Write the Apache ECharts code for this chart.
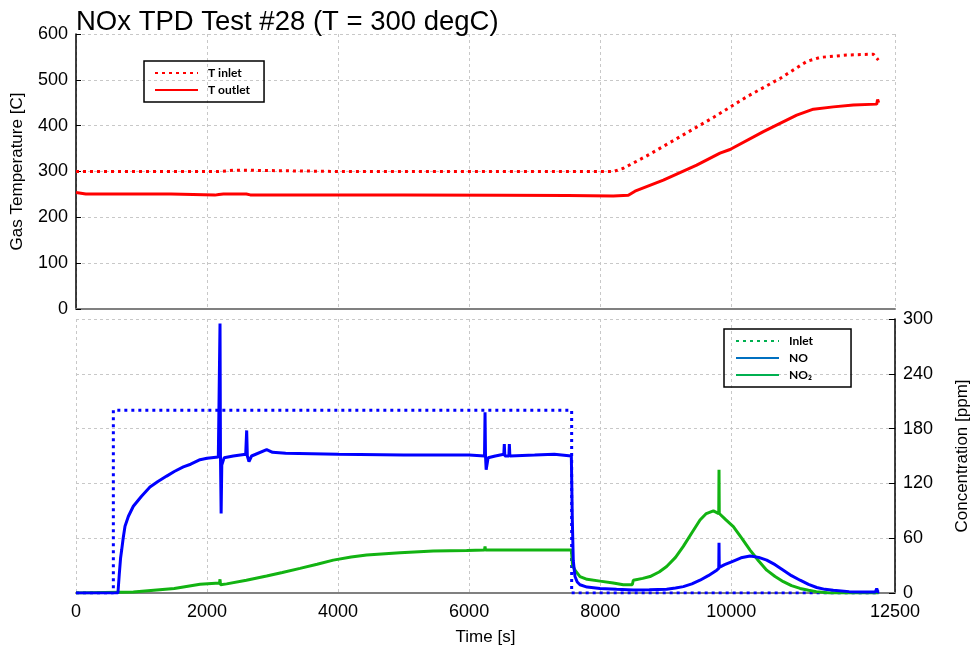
<!DOCTYPE html>
<html>
<head>
<meta charset="utf-8">
<script src="https://cdn.jsdelivr.net/npm/echarts@6/dist/echarts.min.js"></script>
<style>html,body{margin:0;padding:0;background:#fff}#c{width:972px;height:653px}</style>
</head>
<body>
<div id="c"></div>
<script>
// ---- data ----
const xTickValues = [0, 2000, 4000, 6000, 8000, 10000, 12500];
const tempTicks = [0, 100, 200, 300, 400, 500, 600];
const concTicks = [0, 60, 120, 180, 240, 300];

const tInlet = [[0,300],[1000,300],[2000,300],[2180,300],[2190,303],[2440,303],[2460,300],[4000,300],[6000,300],[8200,300],
  [8354,307],[8710,334],[9219,376],[9728,418],[10237,463],[10745,503],[11152,540],[11356,549],[11763,554],[12170,556],[12246,543]];
const tOutlet = [[0,254],[150,251],[1450,251],[1480,248.5],[2120,248.5],[2140,252],[2180,250],[2250,251],[2600,251],[2660,249],
  [5000,248.5],[6500,248],[7500,247.5],[8200,246.5],[8430,248],[8532,257],[8964,281],[9473,314],[9829,340],[9982,348],
  [10491,387],[11000,423],[11254,436],[11559,441],[11864,445],[12221,447],[12235,457],[12250,450]];

const inletConc = [[0,0],[570,0],[570,200],[7565,200],[7565,0],[12250,0]];
const noConc = [[0,0],[640,0],[660,20],[680,38],[697,47],[720,60],[748,73],[800,84],[875,95],[1000,106],[1129,116],[1250,122],
  [1384,128],[1500,133],[1638,138],[1750,141],[1893,146],[2000,147.5],[2172,149],[2190,150],
  [2198,295],[2205,150],[2215,87],[2225,140],[2260,148],[2400,150],[2590,152],[2605,178],[2615,150],[2640,144],[2680,150],
  [2910,157],[3000,154],[3200,153],[4000,152],[5000,151],[6000,151],[6235,150],[6243,198],[6250,150],[6260,135],[6290,148],
  [6400,150],[6530,152],[6537,163],[6545,150],[6607,150],[6614,163],[6622,150],[7000,151],[7300,152],[7560,150],[7575,80],
  [7590,35],[7616,18],[7650,12],[7692,9],[7800,6.5],[7998,5],[8250,4],[8506,3.3],[8750,3.5],[9015,4],[9150,5.5],[9269,7],
  [9400,10],[9524,14],[9650,19],[9779,25],[9810,27],[9814,55],[9818,28],[9900,31],[10033,35],[10150,38.5],[10288,40.5],
  [10420,39],[10542,36],[10670,31],[10796,25],[10920,19],[11051,14],[11180,9.5],[11305,6],[11430,4],[11559,3],[11800,1.5],
  [12000,1],[12200,1],[12221,5],[12240,1],[12260,1]];
const no2Conc = [[0,0],[875,1],[1500,5],[1893,9.5],[2190,11],[2198,15],[2206,9],[2300,10],[2600,14],[2910,18.6],[3150,22.5],
  [3419,27],[3680,31.5],[3927,36],[4200,39.5],[4436,41.6],[4945,44],[5453,46],[5962,46.6],[6235,47],[6243,51],[6250,47],
  [7000,47],[7560,47],[7580,30],[7616,25],[7692,18],[7800,15],[7998,13],[8200,11],[8353,9],[8490,9],[8506,14],[8650,16],
  [8761,18],[8900,23],[9015,29],[9150,39],[9269,51],[9400,66],[9524,80],[9620,87],[9728,90],[9810,87],[9814,135],[9818,87],
  [9920,80],[10033,72.6],[10160,60],[10288,47],[10420,35],[10542,25],[10670,18],[10796,12.4],[10920,8],[11051,5],
  [11180,3],[11300,1.5],[11500,0],[12250,0]];

// ---- chart ----
const FONT = 'Liberation Sans, Arial, sans-serif';
const gridLine = {show:true, lineStyle:{color:'#c8c8c8', type:[3,3], width:1}};
const legendText = {fontFamily:'Lato, Open Sans, sans-serif', fontWeight:'bold', fontSize:12, color:'#000', padding:[0,0,0,5]};
const hideSym = {color:'rgba(0,0,0,0)', borderColor:'rgba(0,0,0,0)', borderWidth:0};
const plain = v => String(v);
const chart = echarts.init(document.getElementById('c'), null, {renderer:'canvas'});
chart.setOption({
  animation:false,
  backgroundColor:'#fff',
  title:{text:'NOx TPD Test #28 (T = 300 degC)', left:71, top:3,
    textStyle:{fontFamily:FONT, fontSize:27.5, fontWeight:'normal', color:'#000'}},
  grid:[
    {left:76, right:77, top:34, height:275, outerBoundsMode:'none', containLabel:false},
    {left:76, right:77, top:319, height:274, outerBoundsMode:'none', containLabel:false}
  ],
  legend:[
    {data:['T inlet','T outlet'], orient:'vertical', left:144, top:61, itemWidth:43, itemHeight:14, itemGap:5,
      padding:[6,14,6,10], borderColor:'#000', borderWidth:1.5, itemStyle:hideSym, textStyle:legendText},
    {data:['Inlet','NO','NO₂'], orient:'vertical', left:724, top:329, itemWidth:43, itemHeight:14, itemGap:5,
      padding:[6,38,6,11], borderColor:'#000', borderWidth:1.5, itemStyle:hideSym, textStyle:legendText}
  ],
  xAxis:[
    {type:'value', gridIndex:0, min:0, max:12500, interval:2000,
      axisLine:{show:true, onZero:false, lineStyle:{color:'#808080', width:2}},
      axisTick:{show:false, customValues:xTickValues}, axisLabel:{show:false, customValues:xTickValues},
      splitLine:gridLine},
    {type:'value', gridIndex:1, min:0, max:12500, interval:2000,
      name:'Time [s]', nameLocation:'middle', nameGap:36,
      nameTextStyle:{fontFamily:FONT, fontSize:17, color:'#000'},
      axisLine:{show:true, onZero:false, lineStyle:{color:'#808080', width:2}},
      axisTick:{show:false, customValues:xTickValues},
      axisLabel:{customValues:xTickValues, formatter:plain, fontFamily:FONT, fontSize:18, color:'#000', margin:10},
      splitLine:gridLine}
  ],
  yAxis:[
    {type:'value', gridIndex:0, min:0, max:600, interval:100, position:'left',
      name:'Gas Temperature [C]', nameLocation:'middle', nameGap:50,
      nameTextStyle:{fontFamily:FONT, fontSize:17, color:'#000'},
      axisLine:{show:true, onZero:false, lineStyle:{color:'#000', width:1.5}},
      axisTick:{show:true, inside:true, length:5, lineStyle:{color:'#000'}},
      axisLabel:{formatter:plain, fontFamily:FONT, fontSize:18, color:'#000', margin:8},
      splitLine:gridLine},
    {type:'value', gridIndex:1, min:0, max:300, interval:60, position:'right',
      name:'Concentration [ppm]', nameLocation:'middle', nameGap:59,
      nameTextStyle:{fontFamily:FONT, fontSize:17, color:'#000'},
      axisLine:{show:true, onZero:false, lineStyle:{color:'#000', width:1.5}},
      axisTick:{show:true, inside:true, length:6, lineStyle:{color:'#000'}},
      axisLabel:{formatter:plain, fontFamily:FONT, fontSize:18, color:'#000', margin:8},
      splitLine:gridLine}
  ],
  series:[
    {name:'T inlet', type:'line', xAxisIndex:0, yAxisIndex:0, data:tInlet, symbol:'none', color:'#ff0000',
      lineStyle:{color:'#ff0000', width:3, type:[3,4]}},
    {name:'T outlet', type:'line', xAxisIndex:0, yAxisIndex:0, data:tOutlet, symbol:'none', color:'#ff0000',
      lineStyle:{color:'#ff0000', width:3}},
    {name:'Inlet line', type:'line', xAxisIndex:1, yAxisIndex:1, data:inletConc, symbol:'none',
      lineStyle:{color:'#0000ff', width:3, type:[3,4]}, z:3},
    {name:'NO2 line', type:'line', xAxisIndex:1, yAxisIndex:1, data:no2Conc, symbol:'none',
      lineStyle:{color:'#12b312', width:3}, z:4},
    {name:'NO line', type:'line', xAxisIndex:1, yAxisIndex:1, data:noConc, symbol:'none',
      lineStyle:{color:'#0000ff', width:3}, z:5},
    // legend-only entries (legend styles differ from plotted lines in the original)
    {name:'Inlet', type:'line', xAxisIndex:1, yAxisIndex:1, data:[], symbol:'none', color:'#00b050',
      lineStyle:{color:'#00b050', width:3, type:[3,4]}},
    {name:'NO', type:'line', xAxisIndex:1, yAxisIndex:1, data:[], symbol:'none', color:'#0070c0',
      lineStyle:{color:'#0070c0', width:3}},
    {name:'NO₂', type:'line', xAxisIndex:1, yAxisIndex:1, data:[], symbol:'none', color:'#00b050',
      lineStyle:{color:'#00b050', width:3}}
  ]
});
</script>
</body>
</html>
